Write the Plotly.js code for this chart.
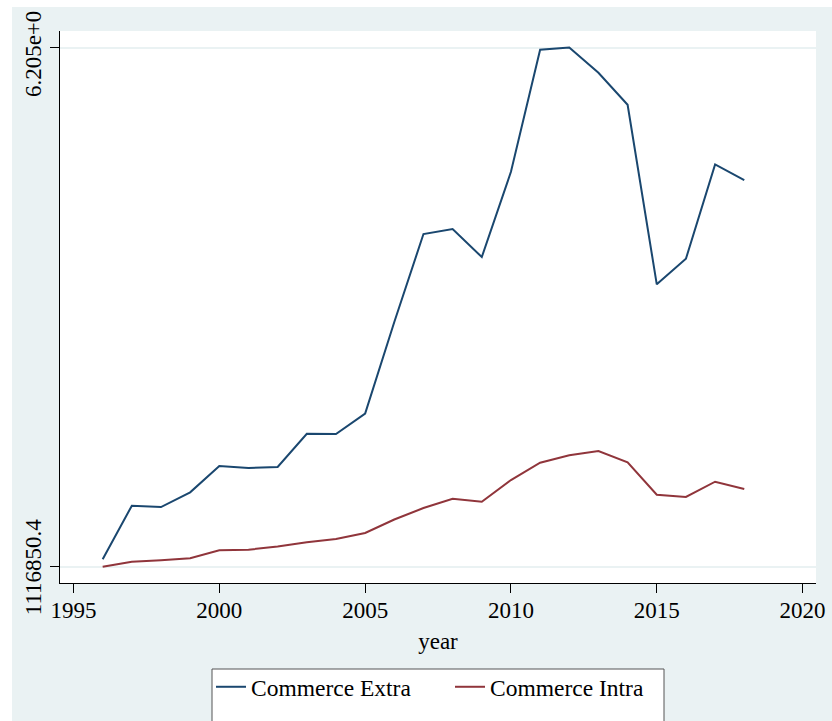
<!DOCTYPE html>
<html>
<head>
<meta charset="utf-8">
<script src="https://cdn.plot.ly/plotly-3.0.1.min.js"></script>
<style>
html, body { margin: 0; padding: 0; background: #ffffff; width: 832px; height: 721px; overflow: hidden; }
#chart { position: absolute; left: 0; top: 0; width: 832px; height: 721px; }
</style>
</head>
<body>
<div id="chart"></div>
<script>
const years = [1996,1997,1998,1999,2000,2001,2002,2003,2004,2005,2006,2007,2008,2009,2010,2011,2012,2013,2014,2015,2016,2017,2018];
const commerceExtra = [1985000,8276000,8123000,9848000,12935000,12700000,12818000,16726000,16691000,19096000,29835000,40163000,40749000,37463000,47474000,61792000,62050000,59093000,55337000,34259000,37264000,48343000,46500000];
const commerceIntra = [1116850.4,1704000,1868000,2103000,3042000,3112000,3488000,3980000,4368000,5072000,6656000,8006000,9097000,8745000,11292000,13322000,14191000,14695000,13369000,9567000,9297000,11092000,10236000];
const xTickVals = [1995,2000,2005,2010,2015,2020];
const yTickVals = [1116850.4, 62050000];
const yTickText = ['1116850.4', '6.205e+0'];
const seriesNames = ['Commerce Extra', 'Commerce Intra'];

const FONT = '"Liberation Serif", "Times New Roman", serif';
const W = 832, H = 721, ML = 60, MR = 16, MT = 31, MB = 138;
const PW = W - ML - MR, PH = H - MT - MB;
const px = v => (v - ML) / PW;          // page x -> paper x
const py = v => (H - MB - v) / PH;      // page y -> paper y

const traces = [
  {x: years, y: commerceExtra, name: seriesNames[0], type: 'scatter', mode: 'lines',
   line: {color: '#1a476f', width: 2}},
  {x: years, y: commerceIntra, name: seriesNames[1], type: 'scatter', mode: 'lines',
   line: {color: '#90353b', width: 2}}
];

const yLabelShift = [0, -7];
const annotations = yTickVals.map((v, i) => ({
  xref: 'paper', x: 0, xanchor: 'right', xshift: -12,
  yref: 'y', y: v, yanchor: 'middle', yshift: yLabelShift[i],
  text: yTickText[i], textangle: -90, showarrow: false,
  font: {family: FONT, size: 23, color: '#000000'}
}));

const shapes = [
  // white strips framing the graph region
  {type: 'rect', xref: 'paper', yref: 'paper', layer: 'below',
   x0: px(0), x1: px(W), y0: py(7), y1: py(0), fillcolor: '#ffffff', line: {width: 0}},
  {type: 'rect', xref: 'paper', yref: 'paper', layer: 'below',
   x0: px(0), x1: px(12), y0: py(H), y1: py(0), fillcolor: '#ffffff', line: {width: 0}},
  // legend frame
  {type: 'rect', xref: 'paper', yref: 'paper', layer: 'below',
   x0: px(212), x1: px(664), y0: py(724), y1: py(669), fillcolor: '#ffffff',
   line: {color: '#555555', width: 1}}
];

const layout = {
  width: W, height: H,
  margin: {l: ML, r: MR, t: MT, b: MB},
  paper_bgcolor: '#eaf2f3',
  plot_bgcolor: '#ffffff',
  font: {family: FONT, color: '#000000', size: 23},
  showlegend: true,
  annotations: annotations,
  shapes: shapes,
  xaxis: {
    range: [1994.537, 2020.46],
    tickvals: xTickVals,
    ticks: 'outside', ticklen: 9, tickwidth: 1, tickcolor: '#000000',
    ticklabelstandoff: -3,
    showline: true, linecolor: '#000000', linewidth: 1,
    showgrid: false, zeroline: false,
    tickfont: {size: 23},
    title: {text: 'year', font: {size: 23}, standoff: 11},
    automargin: false
  },
  yaxis: {
    range: [-796118, 63998176],
    tickvals: yTickVals,
    showticklabels: false,
    ticks: 'outside', ticklen: 9, tickwidth: 1, tickcolor: '#000000',
    showline: true, linecolor: '#000000', linewidth: 1,
    showgrid: true, gridcolor: '#eaf2f3', gridwidth: 2,
    zeroline: false,
    automargin: false
  },
  legend: {
    orientation: 'h',
    xref: 'container', yref: 'container',
    x: 211 / W, xanchor: 'left',
    y: 1 - 665 / H, yanchor: 'top',
    bgcolor: 'rgba(0,0,0,0)', borderwidth: 0,
    font: {size: 23.5},
    itemwidth: 30,
    entrywidth: 194
  }
};

Plotly.newPlot('chart', traces, layout, {displayModeBar: false, staticPlot: true});
</script>
</body>
</html>
